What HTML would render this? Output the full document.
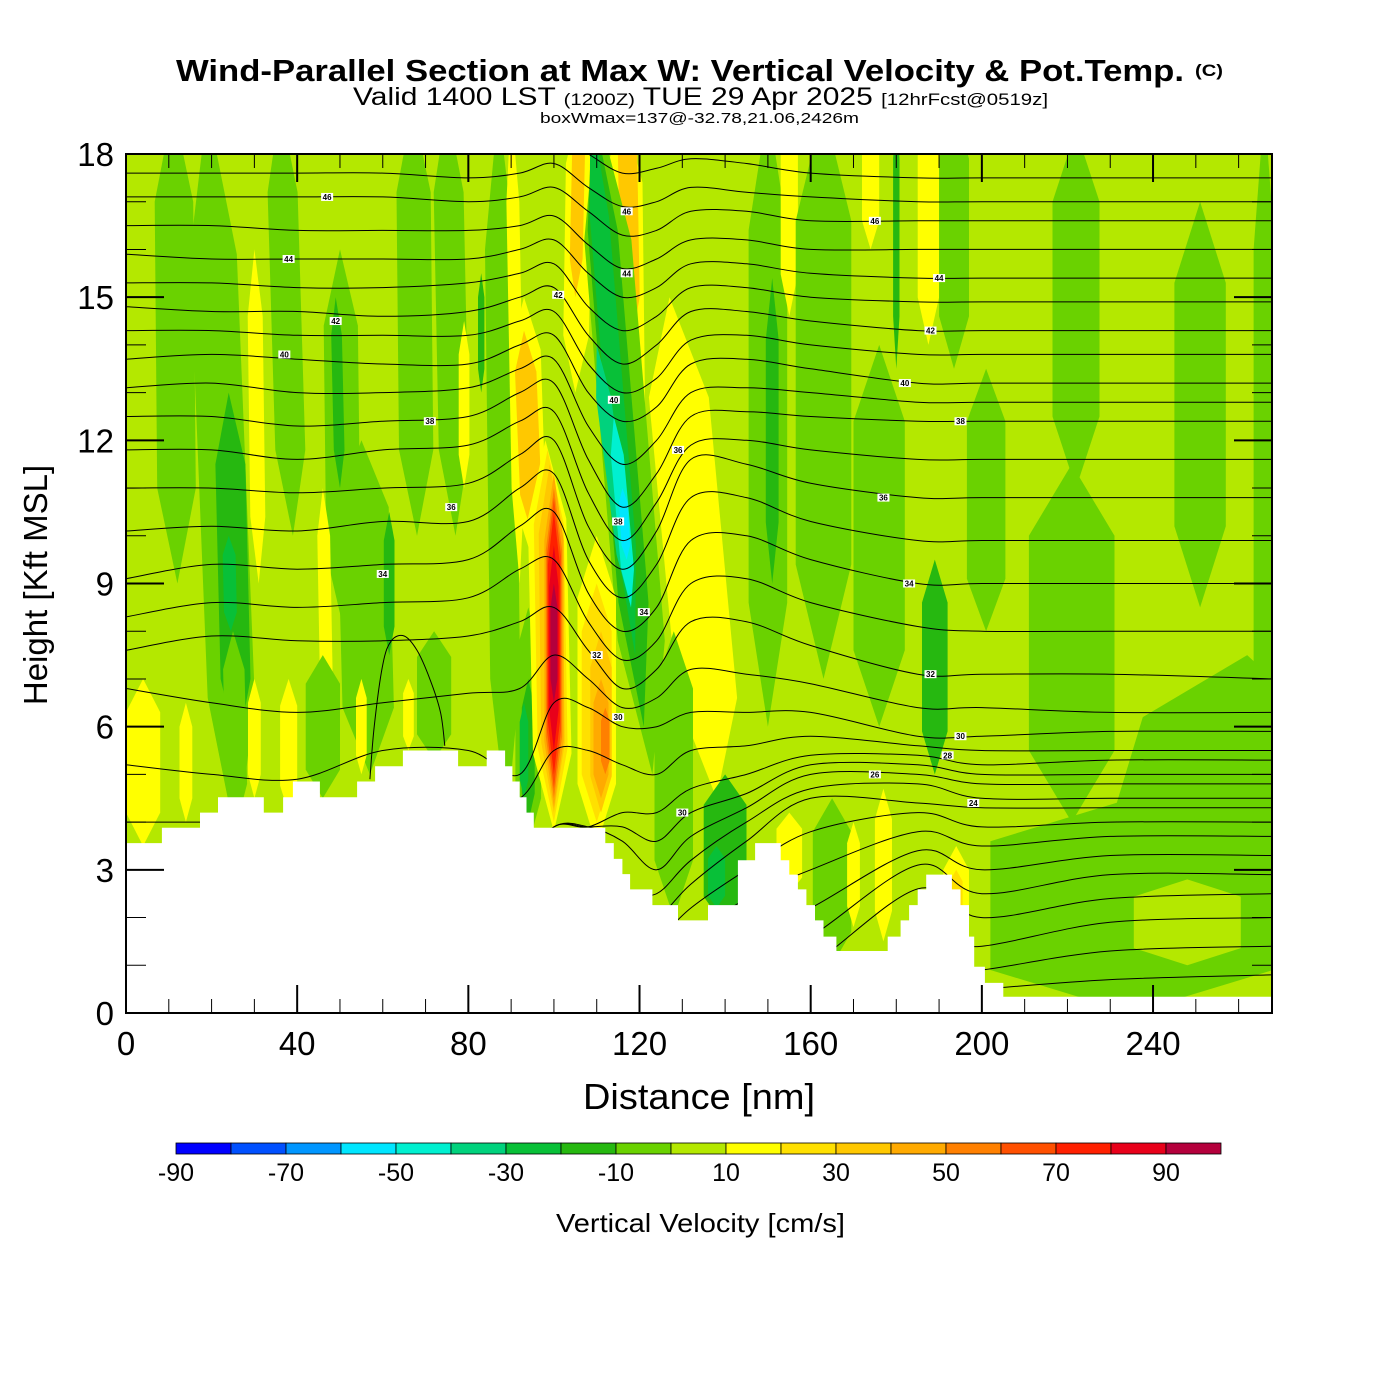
<!DOCTYPE html>
<html><head><meta charset="utf-8">
<style>
html,body{margin:0;padding:0;background:#fff;}
svg{display:block;font-family:"Liberation Sans",sans-serif;}
</style></head>
<body>
<svg id="chart" width="1400" height="1400" viewBox="0 0 1400 1400" xmlns="http://www.w3.org/2000/svg">
<defs><clipPath id="plotclip"><rect x="126" y="154" width="1146" height="859"/></clipPath></defs>
<text x="176" y="81" font-size="31" font-weight="bold" textLength="1008" lengthAdjust="spacingAndGlyphs">Wind-Parallel Section at Max W: Vertical Velocity &amp; Pot.Temp.</text>
<text x="1195" y="76" font-size="17" font-weight="bold" textLength="28" lengthAdjust="spacingAndGlyphs">(C)</text>
<text x="353" y="105" font-size="25" textLength="695" lengthAdjust="spacingAndGlyphs">Valid 1400 LST <tspan font-size="17">(1200Z)</tspan> TUE 29 Apr 2025 <tspan font-size="17">[12hrFcst@0519z]</tspan></text>
<text x="540" y="123" font-size="15" textLength="319" lengthAdjust="spacingAndGlyphs">boxWmax=137@-32.78,21.06,2426m</text>
<rect x="126" y="154" width="1146" height="859" fill="#b4e800"/>
<g id="field" clip-path="url(#plotclip)"></g>
<g id="isentropes" clip-path="url(#plotclip)"></g>
<g id="terrain"></g>
<g id="clabels"></g>
<g id="axes"></g>
<g id="cbar"></g>
</svg>
<script>
// ---- data ----
const xMax = 267.8, zMax = 18;
const binEdges = [-90,-80,-70,-60,-50,-40,-30,-20,-10,0,10,20,30,40,50,60,70,80,90,100];
const binColors = ["#0000ff","#0050ff","#0096ff","#00e6ff","#00f0d0","#00d27d","#08c038","#26b810","#6ad200","#b4e800","#ffff00","#ffe000","#ffc800","#ffaa00","#ff8000","#ff5000","#ff2000","#e8001a","#b4003c"];
const cbarLabels = [-90,-70,-50,-30,-10,10,30,50,70,90];
// streak features: bottom x, top x, width (nm), bottom z, top z (kft), w value (cm/s)
const streakXb = [12,26,26,24.5,31,39,51,50,47,57,61.5,68,77,83,79, 4,14,26,30,38,46,55,72,66, 89,92,95,95,105,105,94,94,93, 100,100,100,100,100,100,100,100,100, 117,118, 123,121,119,118,118,117, 138, 110,110,111,111,112, 128,140,138, 150,151,155,163,174,180,187.5,193.5,176,189,201,222,221,251,266, 240,235,248,165,177,170,194,194,155];
const streakXt = [11,19,24,24,30,36,50,49,46,55,61.5,67,75,83,79, 4,14,25,30,38,46,55,72,66, 87,90,93,93,106,106,94,94,93, 98,98.5,99,100,100,100,100,100,100, 116,117, 110,109,108.5,110,114,116, 127, 110,110,111,111,112, 128,140,138, 150,151,155,163,174,180,187.5,193.5,176,189,201,222,221,251,266, 262,235,248,165,177,170,194,194,155];
const streakW  = [9,11,7,3,3.5,7,8,2.5,3,12,2.5,8,7,1.5,2.5, 8,3,5,3,4,8,2.5,8,2.5, 7,3,7,5,6,3,6,3,2, 9,7,5.5,4.5,3.8,3.3,2.8,2.2,1.6, 9,4.5, 11,7,4.5,3.5,3,2, 14, 9,7,5,3.5,2, 9,10,4, 9,3,4,13,4,1.5,5,7,12,6,9,11,20,12,5, 40,66,25,9,4,3,6,3,6];
const streakZb = [9,3.5,5.5,8,9,10,8,11,6,5,7.5,10,10,13,11, 3.5,4,4,4.5,4.2,4.5,5,5.3,5.5, 4,9,9.5,10,13,15,3.5,4,4.5, 3.8,4,4.2,4.3,4.5,4.7,5,5.5,6.5, 11,14, 5,6,7.5,8.5,8.5,9.5, 4.5, 3.5,4,4.2,4.5,5, 2,1.8,2.2, 6,9,14.6,7,16,13.5,14,13.5,6,5,8,11,4,8.5,4, 1,0,1,1,1.5,1.8,1,1.8,2.5];
const streakZt = [19,19,13,10,16,19,16,15,11,12,10.5,19,19,15.5,14.5, 7,6.5,8,7,7,7.5,7,8,7, 19,19,15,14.3,19,19,8.5,7,6.5, 12,11.8,11.5,11.3,11,10.8,10.5,9.8,9, 19,19, 19,19,19,14,12.5,11, 15, 10,9,8,7,6.4, 8,5,3.5, 19,15.4,19,19,19,19,19,19,14,9.5,13.5,18.5,11.5,17,19, 7.5,4.5,2.8,4.5,4.7,4,3.5,3,4.2];
const streakV  = [-5,-5,-15,-25,15,-5,-5,-15,15,-5,-15,-5,-5,-15,15, 15,15,-5,15,15,-5,15,-5,15, -5,15,15,35,15,35,-5,-15,-25, 15,25,35,45,55,65,75,85,95, 15,35, -5,-15,-25,-35,-45,-55, 15, 15,25,35,45,55, -5,-15,-25, -5,-15,15,-5,15,-15,15,-5,-5,-15,-5,-5,-5,-5,-5, -5,-5,5,-5,15,15,15,25,15];
// terrain steps: start x (nm) and height (kft)
const terrainX = [0,8.4,17.3,21.5,32.2,36.7,39,45.3,54,58.2,64.7,77.6,84.3,88.6,90.3,92,93.6,95.3,97,112,114,116,117.8,123,129,136,143,147,153,155,157,159,161,163,166,178,181,183,185,187,193,195,197,198.2,200.7,205];
const terrainZ = [3.56,3.88,4.2,4.52,4.2,4.52,4.85,4.52,4.85,5.17,5.5,5.17,5.5,5.17,4.85,4.52,4.2,3.88,3.88,3.56,3.23,2.91,2.59,2.26,1.94,2.26,3.2,3.56,3.2,2.9,2.59,2.26,1.94,1.6,1.3,1.6,1.94,2.26,2.59,2.9,2.59,2.26,1.6,0.97,0.63,0.34];
// isentropes: node x positions and heights per theta level
const thetaNodesX = [0,20,40,60,80,92,100,108,116,124,132,145,160,185,200,230,268];
const thetaLevels = [48,47,46,45,44,43,42,41,40,39,38,37,36,35,34,33,32,31,30,29,28,27,26,25,24,23,22,21,20,19,18,17,16];
const theta48 = [18.2,18.2,18.2,18.2,18.1,18.2,18.4,18.0,17.6,17.7,17.9,17.8,17.6,17.5,17.5,17.5,17.5];
const theta47 = [17.6,17.6,17.6,17.6,17.5,17.6,17.8,17.3,16.9,17.0,17.3,17.2,17.1,17.0,17.0,17.0,17.0];
const theta46 = [17.1,17.1,17.1,17.1,17.0,17.1,17.3,16.8,16.3,16.4,16.8,16.8,16.6,16.6,16.6,16.6,16.6];
const theta45 = [16.5,16.5,16.4,16.4,16.4,16.5,16.7,16.1,15.6,15.8,16.2,16.2,16.0,16.0,16.0,16.0,16.0];
const theta44 = [15.9,15.8,15.8,15.8,15.8,16.0,16.2,15.5,15.0,15.2,15.7,15.7,15.5,15.4,15.4,15.4,15.4];
const theta43 = [15.3,15.3,15.2,15.2,15.3,15.5,15.7,14.8,14.3,14.6,15.2,15.2,15.0,14.9,14.9,14.9,14.9];
const theta42 = [14.8,14.7,14.7,14.6,14.7,15.0,15.2,14.2,13.6,14.0,14.7,14.7,14.5,14.3,14.3,14.3,14.3];
const theta41 = [14.3,14.3,14.2,14.2,14.2,14.5,14.7,13.6,13.0,13.3,14.1,14.2,14.0,13.8,13.8,13.8,13.8];
const theta40 = [13.7,13.8,13.7,13.6,13.6,14.0,14.2,13.0,12.4,12.7,13.6,13.7,13.5,13.2,13.2,13.2,13.2];
const theta39 = [13.1,13.2,13.0,13.0,13.1,13.5,13.7,12.3,11.5,12.0,13.0,13.1,13.0,12.8,12.8,12.8,12.8];
const theta38 = [12.5,12.5,12.3,12.4,12.5,13.0,13.2,11.6,10.6,11.3,12.5,12.6,12.5,12.4,12.4,12.4,12.4];
const theta37 = [11.8,11.8,11.6,11.8,11.9,12.4,12.6,10.9,9.9,10.7,11.9,12.0,11.8,11.6,11.6,11.6,11.6];
const theta36 = [11.0,11.0,10.9,11.0,11.1,11.7,12.0,10.2,9.3,10.1,11.6,11.5,11.1,10.8,10.8,10.8,10.8];
const theta35 = [10.1,10.2,10.1,10.3,10.3,11.0,11.3,9.5,8.7,9.4,10.8,10.8,10.3,9.9,9.9,9.9,9.9];
const theta34 = [9.1,9.4,9.3,9.4,9.5,10.2,10.5,8.8,8.0,8.5,9.9,10.0,9.5,9.0,9.0,9.0,9.0];
const theta33 = [8.3,8.6,8.5,8.6,8.7,9.3,9.5,8.2,7.4,7.8,9.0,9.1,8.6,8.1,8.0,8.0,8.0];
const theta32 = [7.6,7.9,7.8,7.8,7.9,8.2,8.5,7.6,6.8,7.2,8.2,8.2,7.7,7.1,7.1,7.1,7.0];
const theta31 = [6.8,6.5,6.3,6.5,6.7,6.8,7.5,7.0,6.4,6.6,7.2,7.1,6.9,6.4,6.4,6.3,6.3];
const theta30 = [5.2,5.0,4.9,5.5,5.5,5.0,6.5,6.4,6.0,6.0,6.3,6.3,6.3,5.8,5.8,5.9,5.9];
const theta29 = [4.0,4.0,4.0,4.5,4.5,4.5,5.5,5.5,5.2,5.0,5.5,5.6,5.8,5.6,5.5,5.5,5.5];
const theta28 = [3.0,3.0,3.0,3.0,3.0,3.0,3.9,3.9,4.2,4.2,4.7,5.0,5.4,5.4,5.2,5.3,5.3];
const theta27 = [3.0,3.0,3.0,3.0,3.0,3.0,3.9,3.9,3.9,3.6,4.2,4.6,5.2,5.2,5.0,5.0,5.0];
const theta26 = [3.0,3.0,3.0,3.0,3.0,3.0,3.9,3.9,3.6,3.0,3.7,4.3,5.0,5.0,4.8,4.8,4.8];
const theta25 = [2.0,2.0,2.0,2.0,2.0,2.0,2.0,2.0,2.5,2.5,3.2,4.0,4.7,4.8,4.5,4.5,4.5];
const theta24 = [1.5,1.5,1.5,1.5,1.5,1.5,1.5,1.5,2.0,2.0,2.7,3.6,4.5,4.4,4.3,4.3,4.3];
const theta23 = [1.0,1.0,1.0,1.0,1.0,1.0,1.0,1.0,1.0,1.5,2.2,3.0,3.8,4.2,3.9,4.0,4.0];
const theta22 = [0.5,0.5,0.5,0.5,0.5,0.5,0.5,0.5,0.5,1.0,1.6,2.4,3.0,3.8,3.5,3.7,3.7];
const theta21 = [0.3,0.3,0.3,0.3,0.3,0.3,0.3,0.3,0.3,0.5,1.0,1.6,2.2,3.4,3.0,3.3,3.3];
const theta20 = [0.2,0.2,0.2,0.2,0.2,0.2,0.2,0.2,0.2,0.3,0.6,1.0,1.6,3.1,2.5,2.9,2.9];
const theta19 = [0.1,0.1,0.1,0.1,0.1,0.1,0.1,0.1,0.1,0.2,0.3,0.5,1.0,2.6,2.0,2.4,2.5];
const theta18 = [0.1,0.1,0.1,0.1,0.1,0.1,0.1,0.1,0.1,0.1,0.2,0.3,0.5,1.5,1.4,1.9,2.0];
const theta17 = [0.1,0.1,0.1,0.1,0.1,0.1,0.1,0.1,0.1,0.1,0.1,0.2,0.3,0.8,0.9,1.3,1.4];
const theta16 = [0.1,0.1,0.1,0.1,0.1,0.1,0.1,0.1,0.1,0.1,0.1,0.1,0.2,0.4,0.5,0.7,0.8];
const thetaHeights = [theta48,theta47,theta46,theta45,theta44,theta43,theta42,theta41,theta40,theta39,theta38,theta37,theta36,theta35,theta34,theta33,theta32,theta31,theta30,theta29,theta28,theta27,theta26,theta25,theta24,theta23,theta22,theta21,theta20,theta19,theta18,theta17,theta16];
// closed low-level contour on the left (dome)
const domeX = [57,58,60,62,65,68,71,73.5,74.5];
const domeZ = [4.9,6.0,7.3,7.8,7.9,7.6,7.0,6.3,5.6];
const labelText = ["46","44","42","40","38","36","34","42","46","44","40","38","36","34","32","30","30","46","44","42","40","38","36","34","32","30","28","26","24"];
const labelX = [47,38,49,37,71,76,60,101,117,117,114,115,129,121,110,115,130,175,190,188,182,195,177,183,188,195,192,175,198];
const labelZ = [17.1,15.8,14.5,13.8,12.4,10.6,9.2,15.05,16.8,15.5,12.85,10.3,11.8,8.4,7.5,6.2,4.2,16.6,15.4,14.3,13.2,12.4,10.8,9.0,7.1,5.8,5.4,5.0,4.4];
const xTicks = [0,40,80,120,160,200,240];
const yTicks = [0,3,6,9,12,15,18];

// ---- scales ----
const X = nm => 126 + nm * (1146 / xMax);
const Y = z => 1013 - z * (859 / zMax);
const NS = "http://www.w3.org/2000/svg";
function mk(tag, attrs, parent) { const e = document.createElementNS(NS, tag); for (const k in attrs) e.setAttribute(k, attrs[k]); parent.appendChild(e); return e; }
function colorFor(v) { for (let i = 0; i < binColors.length; i++) { if (v < binEdges[i + 1]) return binColors[i]; } return binColors[binColors.length - 1]; }

// ---- field ----
const field = document.getElementById('field');
for (let i = 0; i < streakV.length; i++) {
  const xb = streakXb[i], xt = streakXt[i], w = streakW[i], zb = streakZb[i], zt = streakZt[i];
  const f = t => xb + (xt - xb) * t;
  const z = t => zb + (zt - zb) * t;
  const pts = [[f(0), z(0)], [f(0.2) - w / 2, z(0.2)], [f(0.8) - w / 2, z(0.8)], [f(1), z(1)], [f(0.8) + w / 2, z(0.8)], [f(0.2) + w / 2, z(0.2)]];
  const p = mk('polygon', { points: pts.map(q => X(q[0]).toFixed(1) + ',' + Y(q[1]).toFixed(1)).join(' '), fill: colorFor(streakV[i]) }, field);
  
  
}

// ---- isentropes ----
function smoothPath(px, py) {
  let d = 'M' + px[0].toFixed(1) + ',' + py[0].toFixed(1);
  for (let i = 0; i < px.length - 1; i++) {
    const i0 = Math.max(0, i - 1), i3 = Math.min(px.length - 1, i + 2);
    const c1x = px[i] + (px[i + 1] - px[i0]) / 6, c1y = py[i] + (py[i + 1] - py[i0]) / 6;
    const c2x = px[i + 1] - (px[i3] - px[i]) / 6, c2y = py[i + 1] - (py[i3] - py[i]) / 6;
    d += ' C' + c1x.toFixed(1) + ',' + c1y.toFixed(1) + ' ' + c2x.toFixed(1) + ',' + c2y.toFixed(1) + ' ' + px[i + 1].toFixed(1) + ',' + py[i + 1].toFixed(1);
  }
  return d;
}
const iso = document.getElementById('isentropes');
thetaHeights.forEach((h, k) => {
  const p = mk('path', { d: smoothPath(thetaNodesX.map(X), h.map(Y)), fill: 'none', stroke: '#000', 'stroke-width': 1 }, iso);
  
  
});
const dome = mk('path', { d: smoothPath(domeX.map(X), domeZ.map(Y)), fill: 'none', stroke: '#000', 'stroke-width': 1 }, iso);



// ---- terrain ----
const ter = document.getElementById('terrain');
let tp = [[X(0), Y(0)]];
for (let i = 0; i < terrainX.length; i++) {
  const x0 = X(terrainX[i]), x1 = X(i + 1 < terrainX.length ? terrainX[i + 1] : xMax);
  tp.push([x0, Y(terrainZ[i])]); tp.push([x1, Y(terrainZ[i])]);
}
tp.push([X(xMax), Y(0)]);
const tpoly = mk('polygon', { points: tp.map(q => q[0].toFixed(1) + ',' + q[1].toFixed(1)).join(' '), fill: '#fff' }, ter);



// ---- contour labels ----
const cl = document.getElementById('clabels');
labelText.forEach((t, i) => {
  const g = mk('g', {}, cl);
  
  
  mk('rect', { x: X(labelX[i]) - 6, y: Y(labelZ[i]) - 4, width: 12, height: 8, fill: '#fff' }, g);
  const tx = mk('text', { x: X(labelX[i]), y: Y(labelZ[i]) + 3, 'font-size': 8, 'font-weight': 'bold', 'text-anchor': 'middle' }, g);
  tx.textContent = t;
});

// ---- axes ----
const ax = document.getElementById('axes');
const frame = mk('rect', { x: 126, y: 154, width: 1146, height: 859, fill: 'none', stroke: '#000', 'stroke-width': 2 }, ax);


for (let v = 0; v <= 260; v += 10) {
  const major = v % 40 === 0, L = major ? 28 : 14;
  mk('line', { x1: X(v), x2: X(v), y1: 1013, y2: 1013 - L, stroke: '#000', 'stroke-width': major ? 2 : 1 }, ax);
  mk('line', { x1: X(v), x2: X(v), y1: 154, y2: 154 + L, stroke: '#000', 'stroke-width': major ? 2 : 1 }, ax);
}
for (let v = 0; v <= 18; v += 1) {
  const major = v % 3 === 0, L = major ? 38 : 20;
  mk('line', { x1: 126, x2: 126 + L, y1: Y(v), y2: Y(v), stroke: '#000', 'stroke-width': major ? 2 : 1 }, ax);
  mk('line', { x1: 1272, x2: 1272 - L, y1: Y(v), y2: Y(v), stroke: '#000', 'stroke-width': major ? 2 : 1 }, ax);
}
xTicks.forEach(v => {
  const t = mk('text', { x: X(v), y: 1055, 'font-size': 33, 'text-anchor': 'middle' }, ax);
  
  
  t.textContent = v;
});
yTicks.forEach(v => {
  const t = mk('text', { x: 114, y: Y(v) + 12, 'font-size': 33, 'text-anchor': 'end' }, ax);
  
  
  t.textContent = v;
});
const xt = mk('text', { x: 583, y: 1109, 'font-size': 36, textLength: 232, lengthAdjust: 'spacingAndGlyphs' }, ax);


xt.textContent = 'Distance [nm]';
const yt = mk('text', { x: 0, y: 0, 'font-size': 33, 'text-anchor': 'middle', transform: 'translate(47,585) rotate(-90)' }, ax);


yt.textContent = 'Height [Kft MSL]';

// ---- colorbar ----
const cb = document.getElementById('cbar');
const cbX = v => 176 + (v - binEdges[0]) * (1045 / (binEdges[binEdges.length - 1] - binEdges[0]));
binColors.forEach((c, i) => {
  const r = mk('rect', { x: cbX(binEdges[i]), y: 1143, width: cbX(binEdges[i + 1]) - cbX(binEdges[i]), height: 11, fill: c, stroke: '#000', 'stroke-width': 0.8 }, cb);
  
  
});
cbarLabels.forEach(v => {
  const t = mk('text', { x: cbX(v), y: 1181, 'font-size': 25, 'text-anchor': 'middle' }, cb);
  
  
  t.textContent = v;
});
const ct = mk('text', { x: 556, y: 1232, 'font-size': 26, textLength: 289, lengthAdjust: 'spacingAndGlyphs' }, cb);


ct.textContent = 'Vertical Velocity [cm/s]';
</script>
</body></html>
